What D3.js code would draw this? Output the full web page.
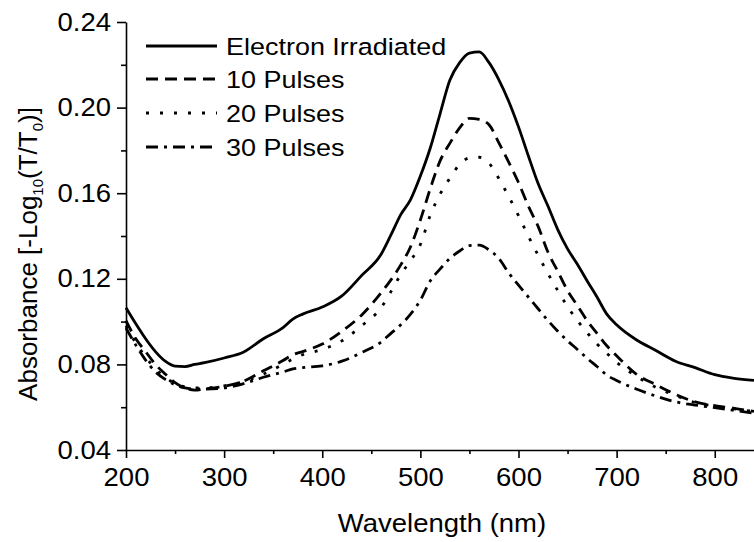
<!DOCTYPE html>
<html>
<head>
<meta charset="utf-8">
<script src="https://cdn.jsdelivr.net/npm/d3@7"></script>
<style>
  body { margin: 0; background: #fff; }
  svg text { font-family: "Liberation Sans", Arial, sans-serif; fill: #000; }
</style>
</head>
<body>
<svg id="chart" width="754" height="542"></svg>
<script>
// wavelength grid (nm) shared by all spectra
const wavelengths = [200, 210, 220, 230, 240, 250, 260, 270, 280, 300, 320, 340, 360, 370, 380, 400, 420, 440, 460, 470,
  480, 490, 500, 510, 520, 530, 540, 550, 560, 570, 580, 590, 600, 610, 620, 630, 640, 650, 660, 670,
  680, 690, 700, 720, 740, 760, 780, 800, 820, 840];

const electronIrradiated = [0.1065, 0.099, 0.092, 0.086, 0.0815, 0.0792, 0.079, 0.080, 0.0808, 0.083, 0.0858, 0.092, 0.0972, 0.1012, 0.1035, 0.1068, 0.112, 0.1215, 0.1315, 0.1405,
  0.150, 0.157, 0.168, 0.181, 0.197, 0.2128, 0.221, 0.2255, 0.226, 0.221, 0.213, 0.203, 0.191, 0.1775, 0.1645, 0.154, 0.143, 0.134, 0.1268, 0.119,
  0.1115, 0.1035, 0.0985, 0.0915, 0.0865, 0.0815, 0.0785, 0.0752, 0.0735, 0.0725];

const pulses10 = [0.1005, 0.092, 0.086, 0.080, 0.0755, 0.0715, 0.069, 0.068, 0.0685, 0.0698, 0.0722, 0.077, 0.0818, 0.0845, 0.086, 0.0895, 0.0955, 0.103, 0.1135, 0.1195,
  0.1265, 0.135, 0.1475, 0.162, 0.175, 0.1833, 0.1905, 0.195, 0.1945, 0.192, 0.1835, 0.1745, 0.165, 0.154, 0.1445, 0.1325, 0.1235, 0.1145, 0.1075, 0.1004,
  0.0945, 0.0887, 0.084, 0.0755, 0.0705, 0.066, 0.0625, 0.0607, 0.0595, 0.058];

const pulses20 = [0.098, 0.090, 0.0835, 0.078, 0.074, 0.071, 0.0695, 0.069, 0.069, 0.070, 0.072, 0.0755, 0.080, 0.0825, 0.0845, 0.087, 0.091, 0.098, 0.1065, 0.114,
  0.122, 0.1285, 0.136, 0.1496, 0.1595, 0.167, 0.1735, 0.1765, 0.1768, 0.174, 0.1668, 0.1585, 0.1495, 0.140, 0.131, 0.1225, 0.1145, 0.107, 0.1005, 0.0948,
  0.0895, 0.0852, 0.081, 0.0745, 0.0693, 0.0655, 0.0622, 0.0605, 0.0592, 0.058];

const pulses30 = [0.097, 0.089, 0.082, 0.0765, 0.073, 0.0705, 0.069, 0.0685, 0.0685, 0.069, 0.071, 0.074, 0.0765, 0.0779, 0.0785, 0.0793, 0.0815, 0.0855, 0.0905, 0.0945,
  0.0985, 0.1035, 0.110, 0.119, 0.1245, 0.1295, 0.133, 0.1355, 0.1357, 0.1335, 0.1295, 0.1228, 0.117, 0.1115, 0.106, 0.1005, 0.0955, 0.091, 0.087, 0.0828,
  0.079, 0.075, 0.0725, 0.0685, 0.0652, 0.0625, 0.061, 0.0598, 0.0585, 0.0572];

const seriesNames = ["Electron Irradiated", "10 Pulses", "20 Pulses", "30 Pulses"];
const seriesValues = [electronIrradiated, pulses10, pulses20, pulses30];
const seriesDash = ["none", "12,7", "3,11", "12,6,3,6"];

const yMajorTicks = [0.04, 0.08, 0.12, 0.16, 0.20, 0.24];
const yMinorTicks = [0.06, 0.10, 0.14, 0.18, 0.22];
const xMajorTicks = [200, 300, 400, 500, 600, 700, 800];
const xMinorTicks = [250, 350, 450, 550, 650, 750];

const svg = d3.select("#chart");
const fontSize = 24;
const stretch = 1.1; // the original lettering is a bit wider than Arial

const widen = (sel, k) => sel.each(function() {
  const w = this.getComputedTextLength();
  d3.select(this).attr("textLength", w * k).attr("lengthAdjust", "spacingAndGlyphs");
});

const x = d3.scaleLinear().domain([200, 840]).range([126, 754]);
const y = d3.scaleLinear().domain([0.04, 0.24]).range([450, 22]);

// axes
const xAxisG = svg.append("g").attr("transform", `translate(0,${y(0.04)})`);
xAxisG.call(d3.axisBottom(x).tickValues(xMajorTicks).tickSize(8).tickSizeOuter(0).tickPadding(10).tickFormat(d3.format("d")));
xAxisG.append("g").call(d3.axisBottom(x).tickValues(xMinorTicks).tickSize(4).tickFormat(""))
  .call(g => g.select(".domain").remove());

const yAxisG = svg.append("g").attr("transform", `translate(${x(200)},0)`);
yAxisG.call(d3.axisLeft(y).tickValues(yMajorTicks).tickSize(9).tickSizeOuter(0).tickPadding(6).tickFormat(d3.format(".2f")));
yAxisG.append("g").call(d3.axisLeft(y).tickValues(yMinorTicks).tickSize(5).tickFormat(""))
  .call(g => g.select(".domain").remove());

svg.selectAll(".domain, .tick line").attr("stroke", "#000").attr("stroke-width", 1.6);
svg.selectAll(".tick text").attr("font-size", fontSize + 1).attr("fill", "#000").call(widen, stretch);

// axis titles
svg.append("text")
  .attr("x", 442)
  .attr("y", 532)
  .attr("text-anchor", "middle")
  .attr("font-size", fontSize + 1)
  .text("Wavelength (nm)")
  .call(widen, stretch);

const yTitle = svg.append("text")
  .attr("transform", "translate(37,254) rotate(-90)")
  .attr("text-anchor", "middle")
  .attr("font-size", fontSize + 2);
yTitle.append("tspan").text("Absorbance [-Log");
yTitle.append("tspan").attr("font-size", 15).attr("dy", 6).text("10");
yTitle.append("tspan").attr("dy", -6).text("(T/T");
yTitle.append("tspan").attr("font-size", 15).attr("dy", 6).text("0");
yTitle.append("tspan").attr("dy", -6).text(")]");

// spectra
const line = d3.line()
  .x((d, i) => x(wavelengths[i]))
  .y(d => y(d))
  .curve(d3.curveMonotoneX);

svg.append("g").selectAll("path")
  .data(seriesValues)
  .join("path")
  .attr("fill", "none")
  .attr("stroke", "#000")
  .attr("stroke-width", 2.8)
  .attr("stroke-dasharray", (d, i) => seriesDash[i])
  .attr("d", line);

// legend
const legendRows = [46, 79, 113, 147];
const legend = svg.append("g");
legend.selectAll("line")
  .data(seriesNames)
  .join("line")
  .attr("x1", 146)
  .attr("x2", 217)
  .attr("y1", (d, i) => legendRows[i])
  .attr("y2", (d, i) => legendRows[i])
  .attr("stroke", "#000")
  .attr("stroke-width", 2.8)
  .attr("stroke-dasharray", (d, i) => seriesDash[i]);
legend.selectAll("text")
  .data(seriesNames)
  .join("text")
  .attr("x", 226)
  .attr("y", (d, i) => legendRows[i])
  .attr("dy", "0.36em")
  .attr("font-size", fontSize + 0.5)
  .text(d => d)
  .call(widen, stretch);
</script>
</body>
</html>
